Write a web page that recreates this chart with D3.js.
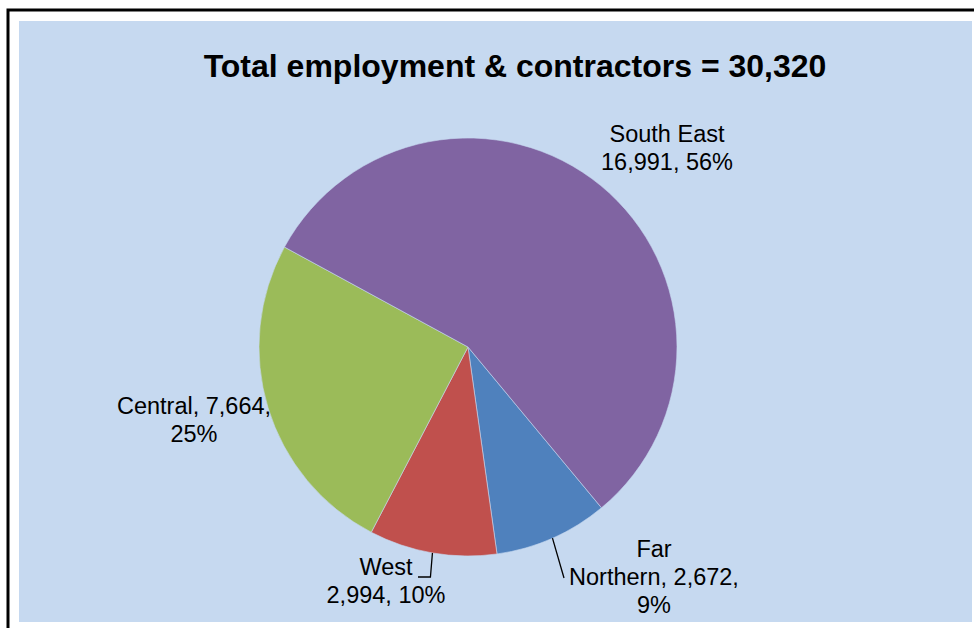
<!DOCTYPE html>
<html>
<head>
<meta charset="utf-8">
<script src="https://cdn.jsdelivr.net/npm/d3@7"></script>
<style>
  html, body { margin: 0; padding: 0; background: #ffffff; }
  svg { display: block; font-family: "Liberation Sans", Arial, sans-serif; }
</style>
</head>
<body>
<svg id="chart" width="974" height="628"></svg>
<script>
// Regional split of employment and contractors
const regions = ["Far Northern", "West", "Central", "South East"];
const headcount = [2672, 2994, 7664, 16991];
const sliceColors = ["#4F81BD", "#C0504D", "#9BBB59", "#8064A2"];
const titleText = "Total employment & contractors = 30,320";

// How each region's label is broken into lines and where it sits
const labelLayout = {
  "Far Northern": { x: 654, y: 557, lines: d => ["Far", `Northern, ${d.num},`, `${d.pct}`], leader: "straight", end: [564, 578] },
  "West":         { x: 386, y: 575, lines: d => ["West", `${d.num}, ${d.pct}`], leader: "elbow", end: [418, 577] },
  "Central":      { x: 194, y: 414, lines: d => [`Central, ${d.num},`, `${d.pct}`] },
  "South East":   { x: 667, y: 142, lines: d => ["South East", `${d.num}, ${d.pct}`] }
};

const W = 974, H = 628;
const cx = 468, cy = 347, R = 209;
const lineHeight = 28;

const svg = d3.select("#chart");

// Frame and plot background
svg.append("path")
  .attr("d", `M8,${H} L8,10 L${W},10`)
  .attr("fill", "none")
  .attr("stroke", "#000")
  .attr("stroke-width", 3);

svg.append("rect")
  .attr("x", 19).attr("y", 21)
  .attr("width", 953).attr("height", 601)
  .attr("fill", "#C6D9F0");

svg.append("text")
  .attr("x", 515).attr("y", 77)
  .attr("text-anchor", "middle")
  .attr("font-size", 32)
  .attr("font-weight", "bold")
  .attr("fill", "#000")
  .text(titleText);

const data = regions.map((name, i) => ({ name, value: headcount[i], color: sliceColors[i] }));
const total = d3.sum(headcount);
const fmt = d3.format(",");

// Slices run clockwise, starting at the lower right
const start = 140.3 * Math.PI / 180;
const pie = d3.pie().sort(null).value(d => d.value)
  .startAngle(start).endAngle(start + 2 * Math.PI);
const arcs = pie(data);

const arc = d3.arc().innerRadius(0).outerRadius(R);

const g = svg.append("g").attr("transform", `translate(${cx},${cy})`);
g.selectAll("path.slice")
  .data(arcs)
  .join("path")
  .attr("class", "slice")
  .attr("d", arc)
  .attr("fill", d => d.data.color)
  .attr("stroke", "#C6D9F0")
  .attr("stroke-width", 0.6)
  .attr("stroke-linejoin", "round");

// Labels and leader lines
arcs.forEach(a => {
  const lay = labelLayout[a.data.name];
  const info = { num: fmt(a.data.value), pct: Math.round(a.data.value / total * 100) + "%" };
  const lines = lay.lines(info);

  const t = svg.append("text")
    .attr("text-anchor", "middle")
    .attr("font-size", 23.5)
    .attr("fill", "#000");
  lines.forEach((ln, i) => {
    t.append("tspan").attr("x", lay.x).attr("y", lay.y + i * lineHeight).text(ln);
  });

  if (lay.leader) {
    const mid = (a.startAngle + a.endAngle) / 2;
    const sx = cx + R * Math.sin(mid);
    const sy = cy - R * Math.cos(mid);
    let pts;
    if (lay.leader === "elbow") {
      pts = [[sx, sy], [sx - 2, lay.end[1]], lay.end];
    } else {
      pts = [[sx, sy], lay.end];
    }
    svg.append("path")
      .attr("d", d3.line()(pts))
      .attr("fill", "none")
      .attr("stroke", "#000")
      .attr("stroke-width", 1.3);
  }
});
</script>
</body>
</html>
